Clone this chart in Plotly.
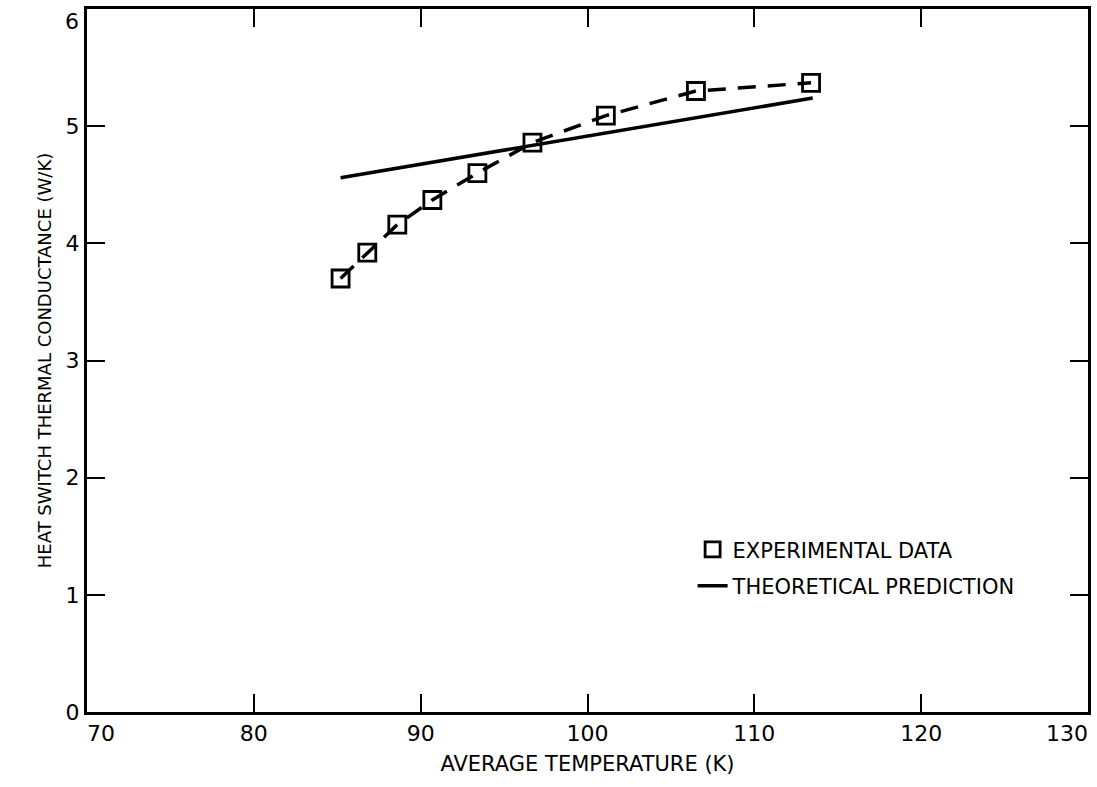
import plotly.graph_objects as go

temp_exp = [85.2, 86.8, 88.6, 90.7, 93.4, 96.7, 101.1, 106.5, 113.4]
cond_exp = [3.70, 3.92, 4.16, 4.37, 4.60, 4.86, 5.09, 5.30, 5.37]
temp_theory = [85.2, 113.5]
cond_theory = [4.56, 5.24]
x_ticks = [70, 80, 90, 100, 110, 120, 130]
y_ticks = [0, 1, 2, 3, 4, 5, 6]

FONT = "DejaVu Sans"
TICK_SIZE = 22

fig = go.Figure()
fig.add_trace(go.Scatter(
    x=temp_exp, y=cond_exp, mode="lines+markers", showlegend=False,
    line=dict(color="black", width=3.5, dash="18px,12px"),
    marker=dict(symbol="square-open", size=17, color="black", line=dict(width=2.8)),
))
fig.add_trace(go.Scatter(
    x=temp_theory, y=cond_theory, mode="lines", showlegend=False,
    line=dict(color="black", width=3.5),
))
fig.add_trace(go.Scatter(
    x=[None], y=[None], mode="markers", name="EXPERIMENTAL DATA",
    legendgroup="a",
    marker=dict(symbol="square-open", size=15, color="black", line=dict(width=2.8)),
))
fig.add_trace(go.Scatter(
    x=[None], y=[None], mode="lines", name="THEORETICAL PREDICTION",
    legendgroup="b",
    line=dict(color="black", width=3.5),
))

axis_common = dict(
    showgrid=False, zeroline=False, showline=True, linecolor="black", linewidth=3,
    ticks="inside", ticklen=18, tickwidth=2, tickcolor="black", mirror="ticks",
    tickfont=dict(family=FONT, size=TICK_SIZE, color="black"),
)
# end labels are placed as annotations so they are not hidden at the page edge
x_text = ["" if v in (x_ticks[0], x_ticks[-1]) else str(v) for v in x_ticks]
y_text = ["" if v == y_ticks[-1] else str(v) for v in y_ticks]

fig.update_xaxes(range=[70, 130], tickvals=x_ticks, ticktext=x_text,
                 title=dict(text="AVERAGE TEMPERATURE (K)", font=dict(family=FONT, size=21, color="black"), standoff=11),
                 **axis_common)
fig.update_yaxes(range=[0, 6], tickvals=y_ticks, ticktext=y_text,
                 title=dict(text="HEAT SWITCH THERMAL CONDUCTANCE (W/K)", font=dict(family=FONT, size=18, color="black"), standoff=10),
                 **axis_common)

end_font = dict(family=FONT, size=TICK_SIZE, color="black")
fig.add_annotation(x=x_ticks[0], y=0, xref="x", yref="paper", text=str(x_ticks[0]),
                   showarrow=False, xanchor="left", yanchor="top", yshift=-7, xshift=-2, font=end_font)
fig.add_annotation(x=x_ticks[-1], y=0, xref="x", yref="paper", text=str(x_ticks[-1]),
                   showarrow=False, xanchor="right", yanchor="top", yshift=-7, xshift=2, font=end_font)
fig.add_annotation(x=0, y=y_ticks[-1], xref="paper", yref="y", text=str(y_ticks[-1]),
                   showarrow=False, xanchor="right", yanchor="middle", xshift=-6, yshift=-12, font=end_font)

fig.update_layout(
    width=1097, height=787,
    margin=dict(l=87, r=6, t=9, b=75),
    plot_bgcolor="white", paper_bgcolor="white",
    font=dict(family=FONT, color="black"),
    legend=dict(x=0.605, y=0.26, xanchor="left", yanchor="top",
                font=dict(family=FONT, size=21, color="black"),
                tracegroupgap=6, bgcolor="rgba(0,0,0,0)"),
)

fig.write_html("out.html")
